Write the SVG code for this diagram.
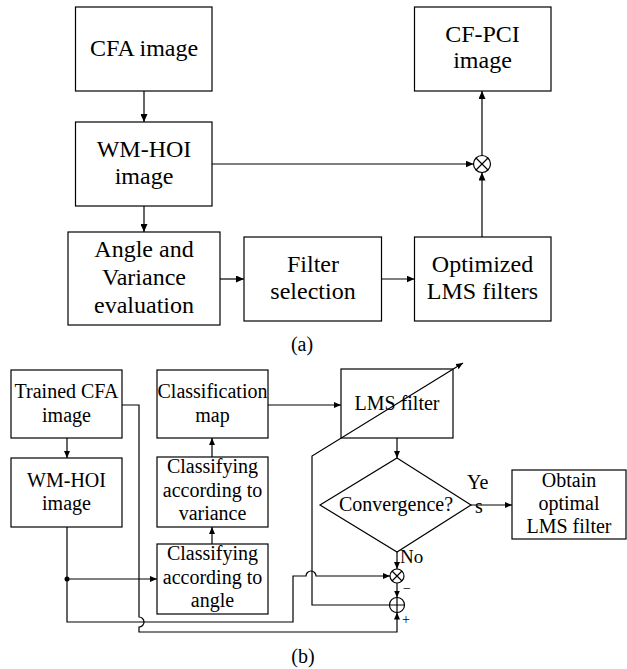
<svg xmlns="http://www.w3.org/2000/svg" width="627" height="669" viewBox="0 0 627 669">
<style>
  .box{fill:#fff;stroke:#000;stroke-width:1.2}
  .ln{fill:none;stroke:#000;stroke-width:1.2}
  text{font-family:'Liberation Serif','DejaVu Serif',serif;fill:#000}
  .ta{font-size:24px;text-anchor:middle}
  .tb{font-size:20px;text-anchor:middle}
  .ts{font-size:14px}
</style>
<defs>
  <marker id="ah" markerWidth="8" markerHeight="7" refX="8" refY="3.5" orient="auto" markerUnits="userSpaceOnUse"><path d="M0,0 L8,3.5 L0,7 z" fill="#000"/></marker>
  <marker id="as" markerWidth="7" markerHeight="6" refX="7" refY="3" orient="auto" markerUnits="userSpaceOnUse"><path d="M0,0 L7,3 L0,6 z" fill="#000"/></marker>
</defs>
<rect width="627" height="669" fill="#fff"/>

<!-- (a) -->
<g id="cfa"><rect class="box" x="75.5" y="7" width="136.5" height="84"/>
  <text class="ta" x="144" y="56" font-family="Liberation Serif">CFA image</text></g>
<g id="wmhoi"><rect class="box" x="75.5" y="122" width="136.5" height="84"/>
  <text class="ta" x="144" y="157">WM-HOI</text><text class="ta" x="144" y="184">image</text></g>
<g id="angle"><rect class="box" x="68" y="232" width="152" height="93"/>
  <text class="ta" x="144" y="257">Angle and</text><text class="ta" x="144" y="285">Variance</text><text class="ta" x="144" y="313">evaluation</text></g>
<g id="filtersel"><rect class="box" x="244" y="237" width="137.5" height="84"/>
  <text class="ta" x="313" y="272">Filter</text><text class="ta" x="313" y="299">selection</text></g>
<g id="optlms"><rect class="box" x="414.5" y="237" width="136.5" height="84"/>
  <text class="ta" x="482.5" y="272">Optimized</text><text class="ta" x="482.5" y="299">LMS filters</text></g>
<g id="cfpci"><rect class="box" x="414.5" y="7" width="136.5" height="84"/>
  <text class="ta" x="482.5" y="42">CF-PCI</text><text class="ta" x="482.5" y="68">image</text></g>
<g id="mulA"><circle class="ln" cx="482" cy="164" r="8.5"/><path class="ln" d="M476,158 L488,170 M488,158 L476,170"/></g>
<text class="tb" x="302" y="351">(a)</text>

<!-- (b) -->
<g id="trained"><rect class="box" x="11" y="370" width="111" height="68"/>
  <text class="tb" x="66.5" y="398">Trained CFA</text><text class="tb" x="66.5" y="422">image</text></g>
<g id="wmhoiB"><rect class="box" x="11" y="458" width="111" height="69"/>
  <text class="tb" x="66.5" y="487">WM-HOI</text><text class="tb" x="66.5" y="510">image</text></g>
<g id="classmap"><rect class="box" x="157" y="370" width="111" height="68"/>
  <text class="tb" x="212.5" y="398">Classification</text><text class="tb" x="212.5" y="422">map</text></g>
<g id="classvar"><rect class="box" x="157" y="457" width="111" height="70"/>
  <text class="tb" x="212.5" y="473">Classifying</text><text class="tb" x="212.5" y="497">according to</text><text class="tb" x="212.5" y="520">variance</text></g>
<g id="classang"><rect class="box" x="157" y="544" width="111" height="70"/>
  <text class="tb" x="212.5" y="560">Classifying</text><text class="tb" x="212.5" y="584">according to</text><text class="tb" x="212.5" y="607">angle</text></g>
<g id="lms"><rect class="box" x="341" y="369" width="112" height="69"/>
  <text class="tb" x="397" y="410">LMS filter</text></g>
<g id="conv"><path class="box" d="M397,458 L471,505 L397,552 L320,505 Z"/>
  <text class="tb" x="396" y="511">Convergence?</text></g>
<g id="obtain"><rect class="box" x="512" y="470" width="114" height="69"/>
  <text class="tb" x="569" y="487">Obtain</text><text class="tb" x="569" y="510">optimal</text><text class="tb" x="569" y="533">LMS filter</text></g>
<g id="mulB"><circle class="ln" cx="397" cy="576" r="7"/><path class="ln" d="M392,571 L402,581 M402,571 L392,581"/></g>
<g id="addB"><circle class="ln" cx="397" cy="605" r="7.5"/><path class="ln" d="M389.5,605 H404.5 M397,597.5 V612.5"/></g>
<text class="tb" x="303" y="663">(b)</text>

<g id="connectors">
  <path class="ln" d="M144,91 V122" marker-end="url(#ah)"/>
  <path class="ln" d="M144,206 V232" marker-end="url(#ah)"/>
  <path class="ln" d="M212,164 H473.5" marker-end="url(#ah)"/>
  <path class="ln" d="M220,279 H244" marker-end="url(#ah)"/>
  <path class="ln" d="M381.5,279 H414.5" marker-end="url(#ah)"/>
  <path class="ln" d="M482,237 V172.5" marker-end="url(#ah)"/>
  <path class="ln" d="M482,155.5 V91" marker-end="url(#ah)"/>

  <path class="ln" d="M67,438 V458" marker-end="url(#as)"/>
  <path class="ln" d="M212,544 V527" marker-end="url(#as)"/>
  <path class="ln" d="M212,457 V438" marker-end="url(#as)"/>
  <path class="ln" d="M268,405 H341" marker-end="url(#as)"/>
  <path class="ln" d="M397,438 V458" marker-end="url(#as)"/>
  <path class="ln" d="M471,505 H512" marker-end="url(#as)"/>
  <path class="ln" d="M397,552 V569" marker-end="url(#as)"/>
  <path class="ln" d="M397,583 V597.5" marker-end="url(#as)"/>
  <path class="ln" d="M67,527 V622 H293 V576 H306 A5,5 0 0 1 316,576 H390" marker-end="url(#as)"/>
  <path class="ln" d="M67,579 H157" marker-end="url(#as)"/>
  <circle cx="67" cy="579" r="2.5" fill="#000"/>
  <path class="ln" d="M122,405 H139 V617 A5,5 0 0 1 139,627 V632 H397 V612.5" marker-end="url(#as)"/>
  <path class="ln" d="M389.5,605 H312 V456 L463,363" marker-end="url(#as)"/>
</g>
<text class="tb" x="467" y="489" style="text-anchor:start">Ye</text>
<text class="tb" x="475" y="513" style="text-anchor:start">s</text>
<text class="tb" x="400" y="563" style="text-anchor:start;font-size:19px">No</text>
<text class="ts" x="403" y="593">−</text>
<text class="ts" x="402" y="624">+</text>
</svg>
